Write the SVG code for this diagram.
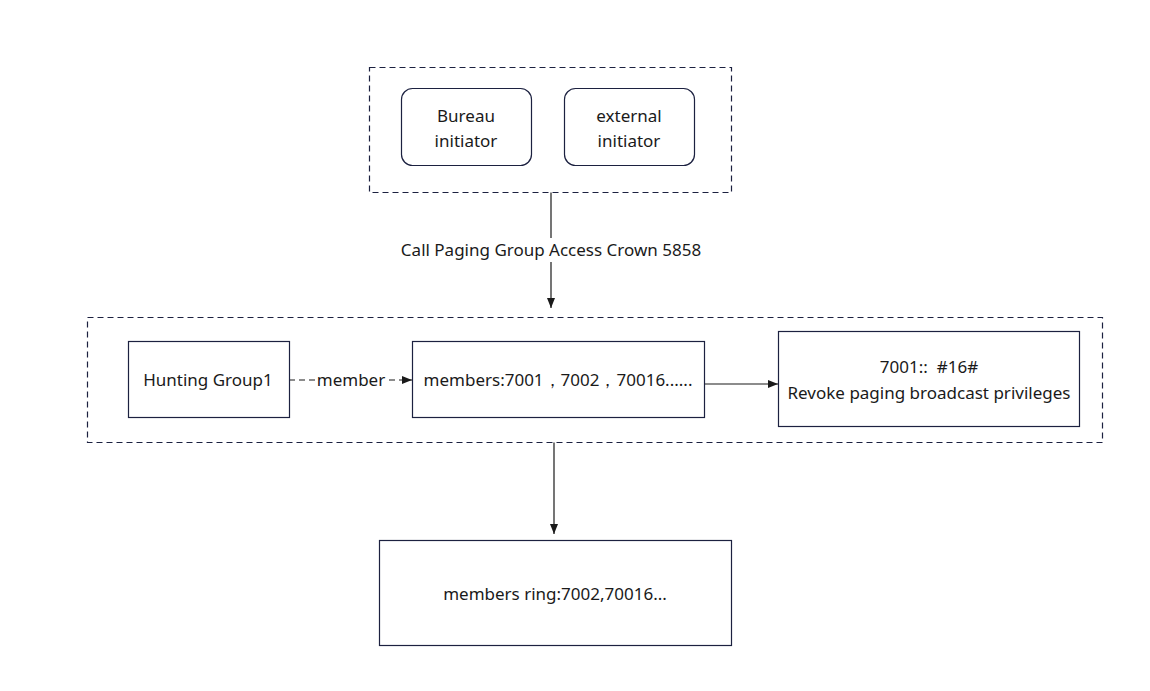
<svg xmlns="http://www.w3.org/2000/svg" width="1150" height="691" viewBox="0 0 1150 691">
<style>
text{font-family:"Noto Sans","Open Sans","DejaVu Sans",sans-serif;font-size:17px;fill:#1a1a1a;text-anchor:middle}
.node{fill:#fff;stroke:#1c2140;stroke-width:1.2}
.grp{fill:none;stroke:#1c2140;stroke-width:1.2;stroke-dasharray:6 4}
.edge{fill:none;stroke:#1a1a1a;stroke-width:1.2}
.dashed{stroke-dasharray:6 4}
</style>
<defs>
<marker id="arr" viewBox="0 0 10 10" refX="10" refY="5" markerWidth="10" markerHeight="10" markerUnits="userSpaceOnUse" orient="auto">
<path d="M0,1 L10,5 L0,9 Z" fill="#1a1a1a"/>
</marker>
</defs>
<rect width="1150" height="691" fill="#fff"/>
<g id="group-initiators">
<rect class="grp" x="369.5" y="67.5" width="362" height="125"/>
</g>
<g id="group-paging">
<rect class="grp" x="87.5" y="317.5" width="1015" height="125"/>
</g>
<g id="connectors">
<line class="edge" x1="551" y1="192.5" x2="551" y2="308" marker-end="url(#arr)"/>
<rect x="394" y="238" width="314" height="24" fill="#fff"/>
<text x="551" y="256">Call Paging Group Access Crown 5858</text>
<line class="edge dashed" x1="289" y1="380" x2="412" y2="380" marker-end="url(#arr)"/>
<rect x="316" y="368" width="70" height="24" fill="#fff"/>
<text x="351" y="386">member</text>
<line class="edge" x1="704" y1="384" x2="778" y2="384" marker-end="url(#arr)"/>
<line class="edge" x1="554" y1="442.5" x2="554" y2="534" marker-end="url(#arr)"/>
</g>
<g id="bureau">
<rect class="node" x="401.5" y="88.5" width="130" height="77" rx="11"/>
<text x="466" y="122">Bureau</text>
<text x="466" y="147">initiator</text>
</g>
<g id="external">
<rect class="node" x="564.5" y="88.5" width="130" height="77" rx="11"/>
<text x="629" y="122">external</text>
<text x="629" y="147">initiator</text>
</g>
<g id="hunting">
<rect class="node" x="128.5" y="341.5" width="161" height="76"/>
<text x="208" y="386">Hunting Group1</text>
</g>
<g id="members">
<rect class="node" x="412.5" y="341.5" width="292" height="76"/>
<text x="558" y="386">members:7001，7002，70016......</text>
</g>
<g id="revoke">
<rect class="node" x="778.5" y="331.5" width="301" height="95"/>
<text x="929" y="373">7001::&#160; #16#</text>
<text x="929" y="399">Revoke paging broadcast privileges</text>
</g>
<g id="ring">
<rect class="node" x="379.5" y="540.5" width="352" height="105"/>
<text x="555" y="600">members ring:7002,70016...</text>
</g>
</svg>
